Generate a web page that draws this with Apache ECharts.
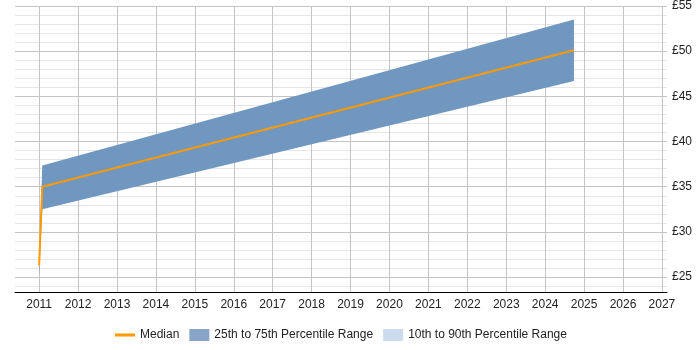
<!DOCTYPE html>
<html lang="en">
<head>
    <meta charset="UTF-8">
    <title>Rate trend</title>
    <script type="text/javascript" src="https://cdn.jsdelivr.net/npm/echarts@6.0.0/dist/echarts.min.js"></script>
    <style>
        html, body { margin: 0; padding: 0; background: #fff; }
        #main { width: 700px; height: 350px; }
    </style>
</head>
<body>
<div id="main"></div>
<script type="text/javascript">
    // values
    var years = [2011.0, 2011.08, 2024.74];
    var median = [26.3, 35.0, 50.1];
    var p25 = [25.0, 32.5, 46.7];
    var p75 = [26.5, 37.35, 53.5];

    var yearTicks = [2011, 2012, 2013, 2014, 2015, 2016, 2017, 2018, 2019, 2020, 2021, 2022, 2023, 2024, 2025, 2026, 2027];
    var priceTicks = [25, 30, 35, 40, 45, 50, 55];
    var minorTicks = [24, 26, 27, 28, 29, 31, 32, 33, 34, 36, 37, 38, 39, 41, 42, 43, 44, 46, 47, 48, 49, 51, 52, 53, 54];

    var font = 'Liberation Sans, Arial, sans-serif';
    var bandColor = '#7097bf';

    var bandData = [], medData = [];
    for (let i = 0; i < years.length; i++) {
        bandData.push([years[i], p25[i], p75[i]]);
        medData.push([years[i], median[i]]);
    }

    // 区间带: 一个多边形, 上沿 p75 下沿 p25
    function renderBand(params, api) {
        if (params.dataIndex !== 0) return;
        let pts = [];
        for (let i = 0; i < years.length; i++) {
            pts.push(api.coord([years[i], p75[i]]));
        }
        for (let i = years.length - 1; i >= 0; i--) {
            pts.push(api.coord([years[i], p25[i]]));
        }
        return {
            type: 'polygon',
            shape: { points: pts },
            style: { fill: bandColor }
        };
    }

    var myChart = echarts.init(document.getElementById('main'));
    var option = {
        animation: false,
        textStyle: { fontFamily: font },
        grid: { left: 15, right: 33, top: 5, bottom: 58 },
        legend: {
            left: 110,
            top: 324,
            itemWidth: 20,
            itemHeight: 12,
            itemGap: 10,
            textStyle: { fontFamily: font, fontSize: 12, color: '#222' },
            data: [
                { name: 'Median', icon: 'path://M0,0L0.01,0M0,4.5H20V7.5H0ZM19.99,12L20,12', itemStyle: { color: '#ff9a00', borderWidth: 0 } },
                { name: '25th to 75th Percentile Range', icon: 'rect', itemStyle: { color: '#88a4c6', borderWidth: 0 } },
                { name: '10th to 90th Percentile Range', icon: 'rect', itemStyle: { color: '#ccdcee', borderWidth: 0 } }
            ]
        },
        xAxis: {
            type: 'value',
            min: 2010.38,
            max: 2027.13,
            axisLine: { lineStyle: { color: '#000', width: 1 } },
            axisTick: { show: false, customValues: yearTicks },
            axisLabel: {
                customValues: yearTicks,
                color: '#222',
                fontSize: 12,
                fontFamily: font,
                margin: 7,
                formatter: function (v) { return String(v); }
            },
            splitLine: { show: true, lineStyle: { color: '#c4c4c4', width: 1 } }
        },
        yAxis: [{
            type: 'value',
            position: 'right',
            min: 23.35,
            max: 55,
            axisLine: { show: false },
            axisTick: { show: false, customValues: priceTicks },
            axisLabel: {
                customValues: priceTicks,
                color: '#222',
                fontSize: 12,
                fontFamily: font,
                margin: 5,
                formatter: function (v) { return '£' + v; }
            },
            splitLine: { show: true, lineStyle: { color: '#c4c4c4', width: 1 } }
        }, {
            type: 'value',
            position: 'right',
            min: 23.35,
            max: 55,
            axisLine: { show: false },
            axisTick: { show: false, customValues: minorTicks },
            axisLabel: { show: false, customValues: minorTicks },
            splitLine: { show: true, lineStyle: { color: '#e6e6e6', width: 1 } }
        }],
        series: [{
            name: '25th to 75th Percentile Range',
            type: 'custom',
            renderItem: renderBand,
            itemStyle: { color: bandColor },
            encode: { x: 0, y: [1, 2] },
            data: bandData,
            z: 2
        }, {
            name: '10th to 90th Percentile Range',
            type: 'line',
            symbol: 'none',
            itemStyle: { color: '#ccdcee' },
            data: []
        }, {
            name: 'Median',
            type: 'line',
            symbol: 'none',
            z: 5,
            itemStyle: { color: '#ff9a00' },
            lineStyle: { color: '#ff9a00', width: 2 },
            data: medData
        }]
    };
    myChart.setOption(option);
</script>
</body>
</html>
